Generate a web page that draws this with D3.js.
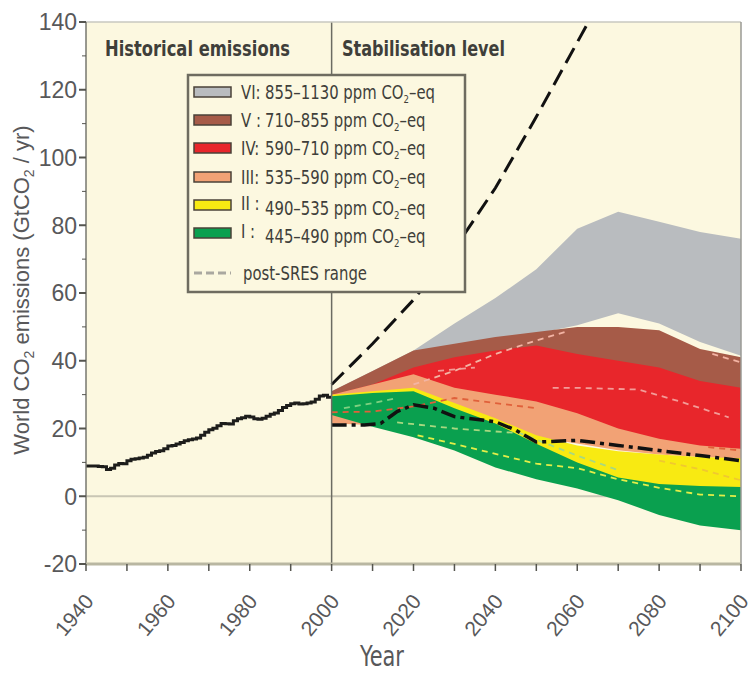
<!DOCTYPE html>
<html>
<head>
<meta charset="utf-8">
<script src="https://cdn.jsdelivr.net/npm/d3@7/dist/d3.min.js"></script>
<style>
  body { margin: 0; background: #fff; }
  svg { display: block; }
</style>
</head>
<body>
<div id="chart"></div>
<script>
'use strict';

// historical CO2 emissions, 1940-2000 (GtCO2 / yr), one value per year
const histStart = 1940;
const histValues = [
  8.9, 8.9, 8.9, 8.8, 8.7, 7.9, 8.3, 9.2, 9.7, 9.6,
  10.5, 10.9, 11.1, 11.3, 11.5, 12.1, 12.8, 13.2, 13.4, 14.0,
  14.8, 15.0, 15.4, 15.9, 16.4, 16.7, 16.9, 17.2, 18.0, 18.9,
  19.6, 20.1, 20.8, 21.5, 21.4, 21.3, 22.3, 22.9, 23.2, 23.6,
  23.4, 22.9, 22.7, 23.0, 23.6, 24.2, 24.6, 25.3, 26.2, 26.8,
  27.3, 27.5, 27.2, 27.3, 27.5, 27.8, 28.6, 29.6, 29.8, 29.2,
  29.2
];

// stabilisation categories, drawn back to front
const bandYears = [2000, 2010, 2020, 2030, 2040, 2050, 2060, 2070, 2080, 2090, 2100];
const categories = ['VI', 'V', 'IV', 'III', 'II', 'I'];
const categoryRanges = ['855–1130', '710–855', '590–710', '535–590', '490–535', '445–490'];
const bandUpper = [
  [31, 37, 43, 51, 58.5, 67, 79, 84, 81, 78, 76],
  [31, 37, 43, 45, 47, 48.5, 50, 50, 49, 43.5, 41],
  [30, 33, 38, 41, 43, 44.5, 42, 40, 38, 34, 32],
  [30, 33, 36, 32, 30, 28, 24.5, 20, 17, 15, 14],
  [30, 31, 32, 27.5, 23, 18, 15, 13.3, 12.3, 11.6, 11.2],
  [29.5, 30.5, 31, 26, 21.5, 15.5, 10, 5.5, 3.6, 3, 2.7]
];
const bandLower = [
  [30, 35, 41, 44, 46, 48, 50.5, 54, 51, 45.5, 41.5],
  [28, 31, 36, 39, 41, 42.5, 40, 38, 36, 32, 30],
  [27, 29, 32, 28, 26, 24, 21, 17, 14, 12, 11],
  [21.5, 21, 30, 25, 21, 17.5, 15.6, 13.6, 12.3, 11.6, 11.1],
  [26, 22, 24, 20, 15, 11, 7, 3.5, 2, 1.5, 1.5],
  [24, 20.5, 17.4, 13.5, 8.5, 5, 2.3, -1.2, -5.5, -8.6, -10]
];
const bandColors = ['#b9bcbf', '#a65b48', '#e8262b', '#f2a275', '#f8ea12', '#0aa04f'];

// post-SRES range (black dashed)
const sresHighYears = [2000, 2010, 2020, 2030, 2040, 2050, 2060, 2070];
const sresHighValues = [33, 45, 58, 73, 91, 112, 134, 156];
const sresLowYears = [2000, 2008, 2012, 2016, 2020, 2025, 2030, 2040, 2045, 2050, 2060, 2070, 2080, 2090, 2100];
const sresLowValues = [21, 21, 21.5, 25, 27, 26, 23.5, 22, 19.5, 16, 16.5, 15, 13.5, 12, 10.5];

// dashed lines inside the bands
const innerLines = [
  { color: '#f3b4a4', years: [2020, 2030, 2040, 2050, 2057], values: [33, 37, 42, 46, 48.5] },
  { color: '#f3b4a4', years: [2093, 2100], values: [42, 39.5] },
  { color: '#f39c98', years: [2026, 2035], values: [37, 38] },
  { color: '#f39c98', years: [2054, 2060, 2075, 2085, 2097], values: [32, 32, 31.5, 28, 23.3] },
  { color: '#e0603a', years: [2000, 2010, 2020, 2030, 2040, 2050], values: [24.8, 25, 26.5, 29, 27.5, 26] },
  { color: '#e0603a', years: [2092, 2100], values: [14.5, 13.5] },
  { color: '#f0c830', years: [2080, 2090, 2100], values: [10.5, 8, 4.7] },
  { color: '#7fd080', years: [2003, 2010, 2016], values: [26, 27.5, 29] },
  { color: '#a8d880', years: [2016, 2030, 2046, 2060, 2070], values: [21.8, 20, 18.6, 12, 7.7] },
  { color: '#e3ee48', years: [2021, 2035, 2050, 2060, 2070, 2080, 2090, 2100], values: [18, 14, 9.6, 8.3, 5, 2.5, 0.5, 0] }
];

const yTicks = [-20, 0, 20, 40, 60, 80, 100, 120, 140];
const xTicks = [1940, 1960, 1980, 2000, 2020, 2040, 2060, 2080, 2100];

const W = 754, H = 675;
const plot = { left: 86, right: 741, top: 22, bottom: 564 };
const FONT = '"DejaVu Sans Condensed", "Liberation Sans Narrow", sans-serif';
const TICKFONT = '"Liberation Sans", Arial, sans-serif';
const SQUEEZE = 0.87;
const INK = '#3f3f3a';
const GREY_TEXT = '#58585a';

const x = d3.scaleLinear().domain([1940, 2100]).range([plot.left, plot.right]);
const y = d3.scaleLinear().domain([-20, 140]).range([plot.bottom, plot.top]);

const svg = d3.select('#chart').append('svg')
  .attr('width', W)
  .attr('height', H);

svg.append('defs').append('clipPath')
  .attr('id', 'plotclip')
  .append('rect')
  .attr('x', plot.left).attr('y', plot.top)
  .attr('width', plot.right - plot.left)
  .attr('height', plot.bottom - plot.top);

// background
svg.append('rect')
  .attr('x', plot.left).attr('y', plot.top)
  .attr('width', plot.right - plot.left)
  .attr('height', plot.bottom - plot.top)
  .attr('fill', '#fcf8e0');

// zero line
svg.append('line')
  .attr('x1', plot.left).attr('x2', plot.right)
  .attr('y1', y(0)).attr('y2', y(0))
  .attr('stroke', '#c9c6b4').attr('stroke-width', 2);

const g = svg.append('g').attr('clip-path', 'url(#plotclip)');

// bands
const area = d3.area()
  .x((d, i) => x(bandYears[i]))
  .y0(d => y(d[1]))
  .y1(d => y(d[0]));

categories.forEach((c, k) => {
  const pts = bandUpper[k].map((u, i) => [u, bandLower[k][i]]);
  g.append('path')
    .attr('d', area(pts))
    .attr('fill', bandColors[k]);
});

const line = d3.line()
  .x(d => x(d[0]))
  .y(d => y(d[1]));

innerLines.forEach(l => {
  g.append('path')
    .attr('d', line(l.years.map((yr, i) => [yr, l.values[i]])))
    .attr('fill', 'none')
    .attr('stroke', l.color)
    .attr('stroke-width', 1.8)
    .attr('stroke-dasharray', '6,5');
});

// post-SRES range
g.append('path')
  .attr('d', line(sresHighYears.map((yr, i) => [yr, sresHighValues[i]])))
  .attr('fill', 'none')
  .attr('stroke', '#111')
  .attr('stroke-width', 3)
  .attr('stroke-dasharray', '17,8');

g.append('path')
  .attr('d', line(sresLowYears.map((yr, i) => [yr, sresLowValues[i]])))
  .attr('fill', 'none')
  .attr('stroke', '#111')
  .attr('stroke-width', 3.5)
  .attr('stroke-dasharray', '15,5,4,5');

// historical emissions
const stepLine = d3.line()
  .x(d => x(d[0]))
  .y(d => y(d[1]))
  .curve(d3.curveStepAfter);
g.append('path')
  .attr('d', stepLine(histValues.map((v, i) => [histStart + i, v])))
  .attr('fill', 'none')
  .attr('stroke', '#1d1d1b')
  .attr('stroke-width', 3);

// divider at 2000
svg.append('line')
  .attr('x1', x(2000)).attr('x2', x(2000))
  .attr('y1', plot.top).attr('y2', plot.bottom)
  .attr('stroke', '#6b6b62').attr('stroke-width', 1.5);

// frame
svg.append('line')
  .attr('x1', plot.left).attr('x2', plot.right)
  .attr('y1', plot.top).attr('y2', plot.top)
  .attr('stroke', '#c8c8c0').attr('stroke-width', 1.5);
svg.append('line')
  .attr('x1', plot.right).attr('x2', plot.right)
  .attr('y1', plot.top).attr('y2', plot.bottom)
  .attr('stroke', '#9a9a94').attr('stroke-width', 1.5);

// y axis
const yAxis = svg.append('g').attr('transform', `translate(${plot.left},0)`);
yAxis.append('line')
  .attr('y1', plot.top).attr('y2', plot.bottom)
  .attr('stroke', '#77776f').attr('stroke-width', 1.5);
d3.range(-20, 141, 10).forEach(v => {
  const major = v % 20 === 0;
  yAxis.append('line')
    .attr('x1', major ? -7 : -4).attr('x2', 0)
    .attr('y1', y(v)).attr('y2', y(v))
    .attr('stroke', '#55554f').attr('stroke-width', major ? 2 : 1);
});
yAxis.selectAll('text.tick')
  .data(yTicks)
  .join('text')
  .attr('class', 'tick')
  .attr('x', -9)
  .attr('y', d => y(d))
  .attr('dy', '0.36em')
  .attr('text-anchor', 'end')
  .attr('font-family', TICKFONT)
  .attr('font-size', 23)
  .attr('fill', GREY_TEXT)
  .text(d => d);

// x axis
const xAxis = svg.append('g').attr('transform', `translate(0,${plot.bottom})`);
xAxis.append('line')
  .attr('x1', plot.left).attr('x2', plot.right)
  .attr('stroke', '#b9b7a2').attr('stroke-width', 3);
d3.range(1940, 2101, 10).forEach(v => {
  xAxis.append('line')
    .attr('x1', x(v)).attr('x2', x(v))
    .attr('y1', 0).attr('y2', 7)
    .attr('stroke', '#55554f').attr('stroke-width', 1.5);
});
xAxis.selectAll('text.tick')
  .data(xTicks)
  .join('text')
  .attr('class', 'tick')
  .attr('transform', d => `translate(${x(d) - 4},${27}) rotate(-50)`)
  .attr('text-anchor', 'end')
  .attr('dy', '0.8em')
  .attr('font-family', TICKFONT)
  .attr('font-size', 21)
  .attr('fill', GREY_TEXT)
  .text(d => d);

svg.append('text')
  .attr('transform', 'translate(382,666) scale(0.8,1)')
  .attr('text-anchor', 'middle')
  .attr('font-family', FONT)
  .attr('font-size', 29)
  .attr('fill', GREY_TEXT)
  .text('Year');

const yl = svg.append('text')
  .attr('transform', 'translate(29,290) rotate(-90)')
  .attr('text-anchor', 'middle')
  .attr('font-family', TICKFONT)
  .attr('font-size', 22)
  .attr('fill', GREY_TEXT);
yl.append('tspan').text('World CO');
yl.append('tspan').attr('font-size', 14).attr('dy', 5).text('2');
yl.append('tspan').attr('dy', -5).text(' emissions (GtCO');
yl.append('tspan').attr('font-size', 14).attr('dy', 5).text('2');
yl.append('tspan').attr('dy', -5).text(' / yr)');

// panel titles
svg.append('text')
  .attr('x', 105).attr('y', 56)
  .attr('font-family', FONT)
  .attr('font-weight', 'bold')
  .attr('font-size', 22)
  .attr('fill', INK)
  .attr('textLength', 185)
  .attr('lengthAdjust', 'spacingAndGlyphs')
  .text('Historical emissions');
svg.append('text')
  .attr('x', 342).attr('y', 56)
  .attr('font-family', FONT)
  .attr('font-weight', 'bold')
  .attr('font-size', 22)
  .attr('fill', INK)
  .attr('textLength', 163)
  .attr('lengthAdjust', 'spacingAndGlyphs')
  .text('Stabilisation level');

// legend
const legend = svg.append('g');
legend.append('rect')
  .attr('x', 188).attr('y', 75)
  .attr('width', 277).attr('height', 217)
  .attr('fill', '#fcf8e0')
  .attr('stroke', '#6e6c60')
  .attr('stroke-width', 2.5);

const rowY = [92, 120, 148, 177, 205, 233];
categories.forEach((c, k) => {
  const ry = rowY[k];
  legend.append('rect')
    .attr('x', 194).attr('y', ry - 5)
    .attr('width', 37).attr('height', 10)
    .attr('fill', bandColors[k])
    .attr('stroke', '#4a4238').attr('stroke-width', 1.5);
  const row = legend.append('g')
    .attr('transform', `translate(241,${ry + 7}) scale(${SQUEEZE},1)`)
    .attr('font-family', FONT)
    .attr('font-size', 19)
    .attr('fill', INK);
  row.append('text')
    .attr('y', k >= 4 ? -2 : 0)
    .text(c + (c === 'V' || c === 'II' || c === 'I' ? ' :' : ':'));
  const t = row.append('text')
    .attr('x', 24 / SQUEEZE)
    .attr('y', k >= 4 ? 3 : 0);
  t.append('tspan').text(categoryRanges[k] + ' ppm CO');
  t.append('tspan').attr('font-size', 11).attr('dy', 4).text('2');
  t.append('tspan').attr('dy', -4).text('–eq');
});
legend.append('line')
  .attr('x1', 194).attr('x2', 231)
  .attr('y1', 273).attr('y2', 273)
  .attr('stroke', '#aaa8a0').attr('stroke-width', 3)
  .attr('stroke-dasharray', '8,4');
legend.append('text')
  .attr('transform', `translate(243,280) scale(${SQUEEZE},1)`)
  .attr('font-family', FONT)
  .attr('font-size', 19)
  .attr('fill', INK)
  .text('post-SRES range');
</script>
</body>
</html>
